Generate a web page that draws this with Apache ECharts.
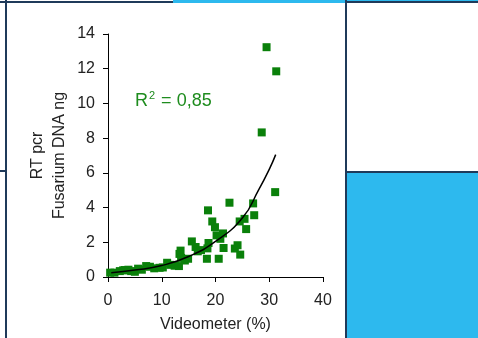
<!DOCTYPE html>
<html>
<head>
<meta charset="utf-8">
<script src="https://cdn.jsdelivr.net/npm/echarts@6/dist/echarts.min.js"></script>
<style>
  html, body { margin: 0; padding: 0; background: #fff; }
  #chart { width: 478px; height: 338px; }
</style>
</head>
<body>
<div id="chart"></div>
<script>
// Videometer (%) vs RT pcr Fusarium DNA (ng)
var videometer = [0.4, 1.2, 2.2, 2.8, 3.1, 3.8, 4.3, 5.0, 5.6, 6.3, 7.1, 7.8, 8.6, 9.6, 10.2,
  11.0, 11.6, 12.4, 13.2, 13.3, 13.5, 13.6, 14.3, 14.9, 15.6, 16.3, 16.7, 17.3, 18.4, 18.5,
  18.6, 18.7, 19.4, 19.9, 20.2, 20.6, 20.9, 21.4, 21.5, 22.6, 23.6, 24.1, 24.5, 24.6, 25.4,
  25.7, 27.0, 27.2, 28.6, 29.5, 31.1, 31.3];
var dnaNg = [0.25, 0.25, 0.34, 0.38, 0.4, 0.42, 0.34, 0.3, 0.48, 0.42, 0.63, 0.59, 0.5, 0.53, 0.55,
  0.82, 0.7, 0.65, 0.63, 1.33, 1.52, 1.1, 0.95, 1.05, 2.05, 1.73, 1.48, 1.55, 1.05, 1.65,
  3.84, 1.96, 3.2, 2.87, 2.4, 1.05, 2.2, 2.51, 1.67, 4.28, 1.64, 1.83, 3.2, 1.29, 3.35,
  2.76, 4.24, 3.56, 8.33, 13.24, 4.89, 11.85];

// exponential trend line
var trendX = [0.6, 5, 10, 15, 20, 25, 28, 30, 31.2];
var trendY = [0.25, 0.4, 0.66, 1.18, 2.05, 3.4, 5.0, 6.2, 7.05];

var xTicks = [0, 10, 20, 30, 40];
var yTicks = [0, 2, 4, 6, 8, 10, 12, 14];

var points = videometer.map(function (v, i) { return [v, dnaNg[i]]; });
var trend = trendX.map(function (v, i) { return [v, trendY[i]]; });

var dark = '#1f3a5a';
var cyan = '#2db9ee';
var font = 'Liberation Sans, Arial, sans-serif';

var chart = echarts.init(document.getElementById('chart'), null, { renderer: 'canvas' });

chart.setOption({
  backgroundColor: '#fff',
  animation: false,
  grid: { left: 108, right: 155, top: 34, bottom: 59 },
  xAxis: {
    type: 'value',
    min: xTicks[0],
    max: xTicks[xTicks.length - 1],
    interval: 10,
    name: 'Videometer (%)',
    nameLocation: 'middle',
    nameGap: 40,
    nameTextStyle: { fontFamily: font, fontSize: 16, color: '#222' },
    axisLine: { lineStyle: { color: '#000', width: 1 } },
    axisTick: { show: true, length: 5, lineStyle: { color: '#000' } },
    axisLabel: { fontFamily: font, fontSize: 16, color: '#222', margin: 16 },
    splitLine: { show: false }
  },
  yAxis: {
    type: 'value',
    min: yTicks[0],
    max: yTicks[yTicks.length - 1],
    interval: 2,
    name: 'RT pcr\nFusarium DNA ng',
    nameLocation: 'middle',
    nameGap: 37,
    nameTextStyle: { fontFamily: font, fontSize: 16, color: '#222', lineHeight: 22 },
    axisLine: { show: true, lineStyle: { color: '#000', width: 1 } },
    axisTick: { show: true, length: 5, lineStyle: { color: '#000' } },
    axisLabel: { fontFamily: font, fontSize: 16, color: '#222', margin: 13 },
    splitLine: { show: false }
  },
  series: [
    {
      type: 'scatter',
      data: points,
      symbol: 'rect',
      symbolSize: 8,
      itemStyle: { color: '#0a800a', opacity: 1 },
      z: 2
    },
    {
      type: 'line',
      data: trend,
      smooth: true,
      showSymbol: false,
      lineStyle: { color: '#000', width: 1.5 },
      z: 3
    }
  ],
  graphic: [
    { type: 'rect', shape: { x: 173, y: 0, width: 173, height: 3 }, style: { fill: cyan } },
    { type: 'rect', shape: { x: 0, y: 1, width: 173, height: 2 }, style: { fill: dark } },
    { type: 'rect', shape: { x: 346, y: 0, width: 132, height: 1 }, style: { fill: cyan } },
    { type: 'rect', shape: { x: 346, y: 1, width: 132, height: 2 }, style: { fill: dark } },
    { type: 'rect', shape: { x: 5, y: 0, width: 2, height: 338 }, style: { fill: dark } },
    { type: 'rect', shape: { x: 0, y: 170, width: 6, height: 2 }, style: { fill: dark } },
    { type: 'rect', shape: { x: 346, y: 173, width: 132, height: 165 }, style: { fill: cyan } },
    { type: 'rect', shape: { x: 345, y: 0, width: 2, height: 338 }, style: { fill: dark } },
    { type: 'rect', shape: { x: 345, y: 171, width: 133, height: 2 }, style: { fill: dark } },
    {
      type: 'text',
      left: 135,
      top: 90,
      style: {
        text: '{r|R}{s|2}{r| = 0,85}',
        rich: {
          r: { fontFamily: font, fontSize: 18, fill: '#1e8c1e', verticalAlign: 'bottom' },
          s: { fontFamily: font, fontSize: 11, fill: '#1e8c1e', verticalAlign: 'top', padding: [0, 1, 9, 1] }
        }
      }
    }
  ]
});
</script>
</body>
</html>
